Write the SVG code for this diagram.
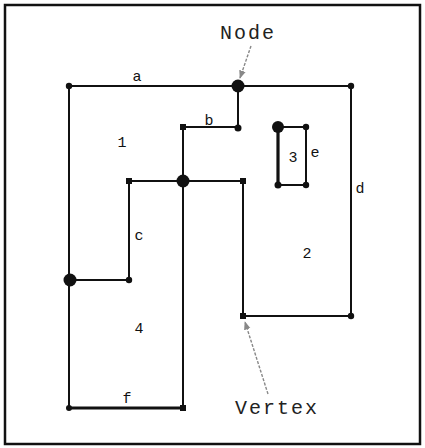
<svg xmlns="http://www.w3.org/2000/svg" width="425" height="448" viewBox="0 0 425 448">
<defs>
<style>
.e{stroke:#111;stroke-width:2;fill:none;stroke-linecap:square}
.t{stroke:#111;stroke-width:3.2;fill:none}
.p{stroke:#888;stroke-width:1.4;fill:none;stroke-dasharray:3 1.5}
.v{fill:#111}
.lb{font-family:"Liberation Mono","DejaVu Sans Mono",monospace;font-size:15px;fill:#111;text-anchor:middle}
.cl{font-family:"Liberation Mono","DejaVu Sans Mono",monospace;font-size:20px;fill:#222;text-anchor:middle;letter-spacing:2px}
</style>
<marker id="ah" viewBox="0 0 10 10" refX="9" refY="5" markerWidth="6" markerHeight="6" orient="auto">
<path d="M0,1 L10,5 L0,9 z" fill="#888"/>
</marker>
</defs>
<rect x="0" y="0" width="425" height="448" fill="#fff"/>
<rect x="5" y="5" width="415" height="439" fill="none" stroke="#111" stroke-width="2.5"/>
<g id="connectors">
<line class="e" x1="69" y1="86" x2="351" y2="86"/>
<line class="e" x1="238" y1="86" x2="238" y2="128"/>
<line class="e" x1="183" y1="127" x2="238" y2="127"/>
<line class="e" x1="183" y1="127" x2="183" y2="408"/>
<line class="e" x1="129" y1="181" x2="243" y2="181"/>
<line class="e" x1="129" y1="181" x2="129" y2="280"/>
<line class="e" x1="69" y1="280" x2="129" y2="280"/>
<line class="e" x1="69" y1="86" x2="69" y2="408"/>
<line class="t" x1="69" y1="408" x2="183" y2="408"/>
<line class="e" x1="243" y1="181" x2="243" y2="316"/>
<line class="e" x1="243" y1="316" x2="351" y2="316"/>
<line class="e" x1="351" y1="86" x2="351" y2="316"/>
<line class="t" x1="278" y1="127" x2="278" y2="185"/>
<line class="e" x1="278" y1="127" x2="306" y2="127"/>
<line class="e" x1="306" y1="127" x2="306" y2="185"/>
<line class="e" x1="278" y1="185" x2="306" y2="185"/>
<line class="p" x1="251" y1="46" x2="240" y2="78" marker-end="url(#ah)"/>
<line class="p" x1="268" y1="394" x2="245" y2="322" marker-end="url(#ah)"/>
</g>
<g id="vertices">
<circle class="v" cx="69" cy="86" r="3.2"/>
<circle class="v" cx="351" cy="86" r="3.2"/>
<circle class="v" cx="238" cy="128" r="3.5"/>
<rect class="v" x="180" y="124" width="6" height="6"/>
<rect class="v" x="126" y="178" width="6" height="6"/>
<rect class="v" x="240" y="178" width="6" height="6"/>
<circle class="v" cx="129" cy="280" r="3.2"/>
<circle class="v" cx="69" cy="408" r="3"/>
<rect class="v" x="180" y="405" width="6" height="6"/>
<rect class="v" x="240" y="313" width="6" height="6"/>
<circle class="v" cx="351" cy="316" r="3.2"/>
<circle class="v" cx="306" cy="127" r="3.2"/>
<circle class="v" cx="278" cy="185" r="3.5"/>
<circle class="v" cx="306" cy="185" r="3.2"/>
</g>
<g id="node-top"><circle class="v" cx="238" cy="86" r="6.5"/></g>
<g id="node-mid"><circle class="v" cx="183" cy="181" r="6.5"/></g>
<g id="node-left"><circle class="v" cx="70" cy="280" r="6.5"/></g>
<g id="node-rect"><circle class="v" cx="278" cy="127" r="6"/></g>
<g id="labels">
<text class="lb" x="137" y="81">a</text>
<text class="lb" x="209" y="125">b</text>
<text class="lb" x="122" y="147">1</text>
<text class="lb" x="139" y="240">c</text>
<text class="lb" x="293" y="162">3</text>
<text class="lb" x="315" y="157">e</text>
<text class="lb" x="360" y="193">d</text>
<text class="lb" x="307" y="258">2</text>
<text class="lb" x="139" y="333">4</text>
<text class="lb" x="127" y="403">f</text>
</g>
<g id="callouts">
<text class="cl" x="248" y="39">Node</text>
<text class="cl" x="277" y="414">Vertex</text>
</g>
</svg>
